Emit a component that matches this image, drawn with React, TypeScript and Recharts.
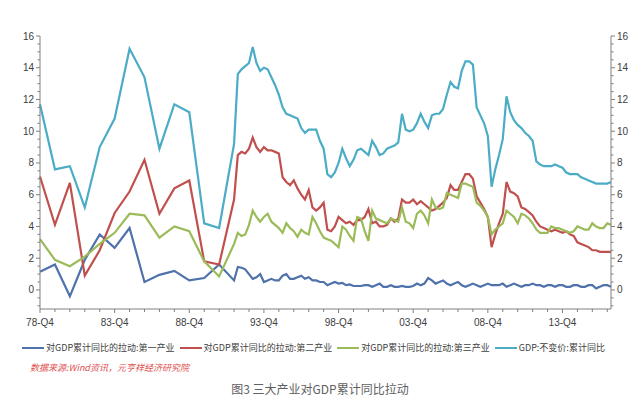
import { Line, LineChart, XAxis, YAxis } from 'recharts'

// quarter index counted from 78-Q4 (0); 78-90 annual (Q4 only), from 91-Q4 quarterly to 17-Q1
const annualIdx = [0, 4, 8, 12, 16, 20, 24, 28, 32, 36, 40, 44, 48]
const quarterFrom = 52
const quarterTo = 153
const periods = [
  ...annualIdx,
  ...Array.from({ length: quarterTo - quarterFrom + 1 }, (_, k) => quarterFrom + k),
]

const tickLabels = ['78-Q4', '83-Q4', '88-Q4', '93-Q4', '98-Q4', '03-Q4', '08-Q4', '13-Q4']

const primary = [
  1.15, 1.6, -0.4, 1.9, 3.5, 2.65, 3.9, 0.5, 0.95, 1.2, 0.6, 0.75, 1.6,
  0.6, 1.45, 1.4, 1.3, 1.0, 0.7, 0.8, 1.0, 0.5, 0.6,
  0.7, 0.6, 0.6, 0.9, 1.0, 0.7, 0.7, 0.8, 0.9, 0.7,
  0.8, 0.6, 0.6, 0.5, 0.5, 0.3, 0.4, 0.5, 0.4, 0.45,
  0.3, 0.35, 0.25, 0.25, 0.25, 0.3, 0.3, 0.2, 0.3, 0.4,
  0.2, 0.2, 0.3, 0.2, 0.2, 0.25, 0.2, 0.2, 0.25, 0.4,
  0.3, 0.4, 0.75, 0.6, 0.4, 0.5, 0.6, 0.4, 0.3, 0.4,
  0.5, 0.3, 0.2, 0.3, 0.4, 0.3, 0.2, 0.3, 0.4, 0.3,
  0.3, 0.3, 0.4, 0.2, 0.3, 0.4, 0.3, 0.2, 0.3, 0.3,
  0.4, 0.3, 0.3, 0.2, 0.3, 0.3, 0.2, 0.3, 0.3, 0.2,
  0.2, 0.3, 0.3, 0.2, 0.2, 0.3, 0.3, 0.1, 0.2, 0.3,
  0.3, 0.2,
]

const secondary = [
  7.15, 4.1, 6.75, 0.9, 2.5, 4.85, 6.2, 8.2, 4.8, 6.4, 6.9, 1.8, 1.6,
  5.7, 8.5, 8.7, 8.6, 8.9, 9.6, 9.0, 8.7, 9.0, 8.8,
  8.8, 8.7, 8.6, 7.1, 6.8, 6.6, 6.9, 6.4, 6.0, 5.7,
  6.3, 5.2, 5.0, 5.2, 5.5, 3.8, 3.7, 4.0, 4.6, 4.4,
  4.2, 4.3, 4.1, 4.4, 4.4, 4.6, 5.1, 4.2, 4.3, 4.0,
  4.0, 4.1, 4.5, 4.3, 4.5, 5.7, 5.5, 5.5, 5.7, 5.4,
  5.6, 5.4, 5.2, 5.0, 5.1, 5.3, 5.5, 5.8, 6.6, 6.3,
  6.3, 6.8, 7.3, 7.3, 7.0, 5.9, 5.5, 5.1, 4.6, 2.7,
  3.5, 4.2, 4.8, 6.8, 6.2, 6.1, 5.9, 5.2, 5.1, 4.9,
  4.7, 4.3, 4.0, 3.9, 3.8, 3.7, 3.8, 3.7, 3.6, 3.7,
  3.5, 3.4, 3.0, 2.9, 2.8, 2.7, 2.5, 2.5, 2.4, 2.4,
  2.4, 2.4,
]

const tertiary = [
  3.2, 1.9, 1.5, 2.1, 2.9, 3.6, 4.8, 4.7, 3.3, 4.0, 3.7, 1.8, 0.85,
  2.9, 3.6, 3.4, 3.5, 4.1, 5.0, 4.6, 4.3, 4.6, 4.8,
  4.3, 4.1, 3.9, 3.6, 4.2, 3.9, 3.7, 3.35, 3.8, 3.6,
  3.5, 4.6, 4.2, 3.7, 3.3, 3.2, 3.1, 2.9, 2.7, 4.0,
  3.8, 3.4, 3.1, 4.6, 4.5, 3.7, 3.1, 5.0, 4.5, 4.4,
  4.3, 4.2, 4.5, 4.4, 4.3, 5.2, 4.3, 4.2, 3.9, 4.8,
  5.0, 4.7, 4.2, 5.7, 5.2, 5.1, 5.2, 6.1, 6.0, 5.9,
  5.8, 6.7, 6.7, 6.6, 6.5, 5.5, 5.3, 5.0, 4.6, 3.5,
  3.8, 4.0, 4.2, 5.0, 4.8, 4.6, 4.2, 4.8, 4.7, 4.5,
  4.2, 3.8, 3.6, 3.6, 3.6, 4.0, 3.9, 3.9, 3.8, 3.7,
  3.6, 3.7, 4.0, 3.9, 3.8, 3.8, 4.2, 4.0, 3.9, 3.9,
  4.2, 4.1,
]

const gdp = [
  11.7, 7.6, 7.8, 5.2, 9.0, 10.8, 15.2, 13.4, 8.9, 11.7, 11.2, 4.2, 3.9,
  9.2, 13.6, 13.9, 14.1, 14.3, 15.3, 14.3, 13.8, 14.0, 13.9,
  13.4, 12.9, 12.3, 11.5, 11.1, 11.0, 10.9, 10.8, 10.2, 9.9,
  10.1, 10.1, 10.1, 9.4, 8.9, 7.3, 7.1, 7.4, 8.0, 8.9,
  8.3, 7.8, 8.2, 8.8, 8.9, 8.7, 8.5, 9.4, 9.0, 8.5,
  8.6, 8.9, 9.0, 9.1, 9.3, 11.1, 10.1, 10.0, 10.1, 10.5,
  11.1, 10.6, 10.2, 11.0, 11.1, 11.1, 11.4, 12.3, 13.1, 12.8,
  12.7, 13.8, 14.4, 14.4, 14.2, 11.5, 11.0, 10.5, 9.7, 6.5,
  7.6, 8.5, 9.5, 12.2, 11.2, 10.7, 10.4, 10.2, 9.9, 9.7,
  9.4, 8.1, 7.9, 7.8, 7.8, 7.8, 7.9, 7.8, 7.7, 7.4,
  7.3, 7.3, 7.3, 7.1, 7.0, 6.9, 6.8, 6.7, 6.7, 6.7,
  6.7, 6.8,
]

const series = [
  { key: 'primary', name: '对GDP累计同比的拉动:第一产业', color: '#4e72a9', values: primary },
  { key: 'secondary', name: '对GDP累计同比的拉动:第二产业', color: '#c0504d', values: secondary },
  { key: 'tertiary', name: '对GDP累计同比的拉动:第三产业', color: '#9bbb59', values: tertiary },
  { key: 'gdp', name: 'GDP:不变价:累计同比', color: '#4bacc6', values: gdp },
]

const data = periods.map((q, i) => {
  const row: Record<string, number> = { q }
  series.forEach((s) => (row[s.key] = s.values[i]))
  return row
})

const xTicks = Array.from({ length: 39 }, (_, k) => k * 4)
const yTicks = Array.from({ length: 35 }, (_, k) => -1 + k * 0.5)

const axisColor = '#808080'
const font = '"Liberation Sans", Arial, sans-serif'
const cjk = '"Noto Sans CJK SC", sans-serif'

function XTick({ x, y, payload }: any) {
  const v = payload.value as number
  const major = v % 20 === 0
  return (
    <g>
      <line x1={x} x2={x} y1={y} y2={y + (major ? 4 : 3)} stroke={axisColor} />
      {major && (
        <text x={x} y={y + 17} textAnchor="middle" fontSize={10} fill="#404040" fontFamily={font}>
          {tickLabels[v / 20]}
        </text>
      )}
    </g>
  )
}

function YTick({ x, y, payload, side }: any) {
  const v = payload.value as number
  const major = Math.abs(v % 2) < 1e-9
  const dir = side === 'left' ? -1 : 1
  return (
    <g>
      <line x1={x} x2={x + dir * (major ? 4 : 2.5)} y1={y} y2={y} stroke={axisColor} />
      {major && (
        <text
          x={x + dir * 6}
          y={y}
          dy={3.5}
          textAnchor={side === 'left' ? 'end' : 'start'}
          fontSize={10}
          fill="#404040"
          fontFamily={font}
        >
          {v}
        </text>
      )}
    </g>
  )
}

export default function App() {
  return (
    <div style={{ position: 'absolute', left: 0, top: 0, width: 640, height: 413, background: '#fff' }}>
      <LineChart width={640} height={340} data={data} margin={{ top: 36, right: 0, bottom: 0, left: 0 }}>
        <XAxis
          dataKey="q"
          type="number"
          domain={[0, 153]}
          ticks={xTicks}
          interval={0}
          height={31}
          tickSize={0}
          tickMargin={0}
          tickLine={false}
          axisLine={{ stroke: axisColor }}
          tick={<XTick />}
        />
        <YAxis
          yAxisId="left"
          width={40}
          domain={[-1.2, 16]}
          ticks={yTicks}
          interval={0}
          tickSize={0}
          tickMargin={0}
          tickLine={false}
          axisLine={{ stroke: axisColor }}
          tick={<YTick side="left" />}
        />
        <YAxis
          yAxisId="right"
          orientation="right"
          width={29}
          domain={[-1.2, 16]}
          ticks={yTicks}
          interval={0}
          tickSize={0}
          tickMargin={0}
          tickLine={false}
          axisLine={{ stroke: axisColor }}
          tick={<YTick side="right" />}
        />
        {series.map((s) => (
          <Line
            key={s.key}
            yAxisId={s.key === 'gdp' ? 'right' : 'left'}
            dataKey={s.key}
            name={s.name}
            type="linear"
            stroke={s.color}
            strokeWidth={2.2}
            dot={false}
            activeDot={false}
            isAnimationActive={false}
          />
        ))}
      </LineChart>
      <div
        style={{
          position: 'absolute',
          left: 22,
          top: 341,
          display: 'flex',
          gap: 5,
          fontFamily: cjk,
          fontSize: 9,
          color: '#404040',
          whiteSpace: 'nowrap',
        }}
      >
        {series.map((s) => (
          <div key={s.key} style={{ display: 'flex', alignItems: 'center' }}>
            <div style={{ width: 22, height: 2, background: s.color, marginRight: 2 }} />
            <span>{s.name}</span>
          </div>
        ))}
      </div>
      <div
        style={{
          position: 'absolute',
          left: 30,
          top: 361,
          fontFamily: cjk,
          fontSize: 9,
          fontStyle: 'italic',
          color: '#e0504f',
          whiteSpace: 'nowrap',
        }}
      >
        数据来源:Wind资讯，元亨祥经济研究院
      </div>
      <div
        style={{
          position: 'absolute',
          left: 0,
          width: 640,
          top: 380,
          textAlign: 'center',
          fontFamily: cjk,
          fontSize: 12,
          color: '#606060',
        }}
      >
        图3 三大产业对GDP累计同比拉动
      </div>
    </div>
  )
}
